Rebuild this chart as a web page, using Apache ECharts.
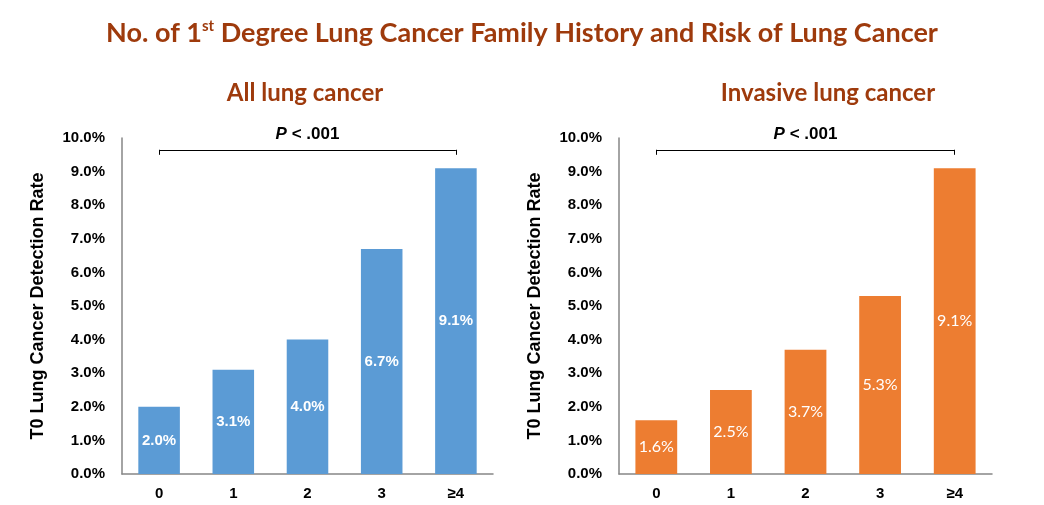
<!DOCTYPE html>
<html>
<head>
<meta charset="utf-8">
<script src="https://cdn.jsdelivr.net/npm/echarts@6/dist/echarts.min.js"></script>
<style>html,body{margin:0;padding:0;background:#fff}#c{width:1044px;height:505px}</style>
</head>
<body>
<div id="c"></div>
<script>
const categories = ['0', '1', '2', '3', '≥4'];
const allLungCancer = [2.0, 3.1, 4.0, 6.7, 9.1];
const invasiveLungCancer = [1.6, 2.5, 3.7, 5.3, 9.1];
const yMin = 0, yMax = 10, yInterval = 1;
const bracketLevel = 9.65, bracketTick = 9.5;

const titleColor = '#9E3A0C';
const axisColor = '#868686';

function bracket() {
  const last = categories.length - 1;
  return {
    silent: true, animation: false, symbol: ['none', 'none'],
    lineStyle: { color: '#000', width: 1, type: 'solid' },
    label: { show: false },
    data: [
      [{ coord: [0, bracketLevel],
         label: { show: true, position: 'insideMiddleTop', distance: 7,
           formatter: '{i|P}{b| < .001}',
           rich: {
             i: { fontFamily: 'Liberation Sans', fontWeight: 'bold', fontStyle: 'italic', fontSize: 17, color: '#000' },
             b: { fontFamily: 'Liberation Sans', fontWeight: 'bold', fontSize: 17, color: '#000' }
           } } },
       { coord: [last, bracketLevel] }],
      [{ coord: [0, bracketLevel] }, { coord: [0, bracketTick] }],
      [{ coord: [last, bracketLevel] }, { coord: [last, bracketTick] }]
    ]
  };
}

function xAx(i) {
  return {
    type: 'category', gridIndex: i, data: categories,
    axisLine: { show: true, lineStyle: { color: axisColor, width: 1.5 } },
    axisTick: { show: false },
    axisLabel: { color: '#000', fontFamily: 'Liberation Sans', fontWeight: 'bold', fontSize: 15, margin: 12 }
  };
}
function yAx(i) {
  return {
    type: 'value', gridIndex: i, min: yMin, max: yMax, interval: yInterval,
    name: 'T0 Lung Cancer Detection Rate', nameLocation: 'middle', nameGap: 75,
    nameTextStyle: { color: '#000', fontFamily: 'Liberation Sans', fontWeight: 'bold', fontSize: 18 },
    axisLine: { show: true, lineStyle: { color: axisColor, width: 1.5 } },
    axisTick: { show: false },
    splitLine: { show: false },
    axisLabel: { color: '#000', fontFamily: 'Liberation Sans', fontWeight: 'bold', fontSize: 15, margin: 17,
      formatter: v => v.toFixed(1) + '%' }
  };
}

const chart = echarts.init(document.getElementById('c'));
chart.setOption({
  animation: false,
  title: [
    { text: '{a|No. of 1}{s|st}{a| Degree Lung Cancer Family History and Risk of Lung Cancer}',
      left: 'center', top: 14,
      textStyle: { rich: {
        a: { fontFamily: 'Lato', fontWeight: 'bold', fontSize: 27, color: titleColor },
        s: { fontFamily: 'Lato', fontWeight: 'bold', fontSize: 15, color: titleColor, padding: [0, 0, 13, 0] }
      } } },
    { text: 'All lung cancer', left: 300, top: 76, textAlign: 'center',
      textStyle: { fontFamily: 'Lato', fontWeight: 'bold', fontSize: 24, color: titleColor } },
    { text: 'Invasive lung cancer', left: 823, top: 76, textAlign: 'center',
      textStyle: { fontFamily: 'Lato', fontWeight: 'bold', fontSize: 24, color: titleColor } }
  ],
  grid: [
    { left: 122, right: 551, top: 138, bottom: 31 },
    { left: 619, right: 52, top: 138, bottom: 31 }
  ],
  xAxis: [xAx(0), xAx(1)],
  yAxis: [yAx(0), yAx(1)],
  series: [
    { type: 'bar', xAxisIndex: 0, yAxisIndex: 0, data: allLungCancer, barWidth: '56%',
      itemStyle: { color: '#5B9BD5' },
      label: { show: true, position: 'inside', color: '#fff', fontFamily: 'Liberation Sans', fontWeight: 'bold', fontSize: 15,
        formatter: p => p.value.toFixed(1) + '%' },
      markLine: bracket() },
    { type: 'bar', xAxisIndex: 1, yAxisIndex: 1, data: invasiveLungCancer, barWidth: '56%',
      itemStyle: { color: '#ED7D31' },
      label: { show: true, position: 'inside', color: '#fff', fontFamily: 'Lato', fontWeight: 'normal', fontSize: 16,
        formatter: p => p.value.toFixed(1) + '%' },
      markLine: bracket() }
  ]
});
</script>
</body>
</html>
